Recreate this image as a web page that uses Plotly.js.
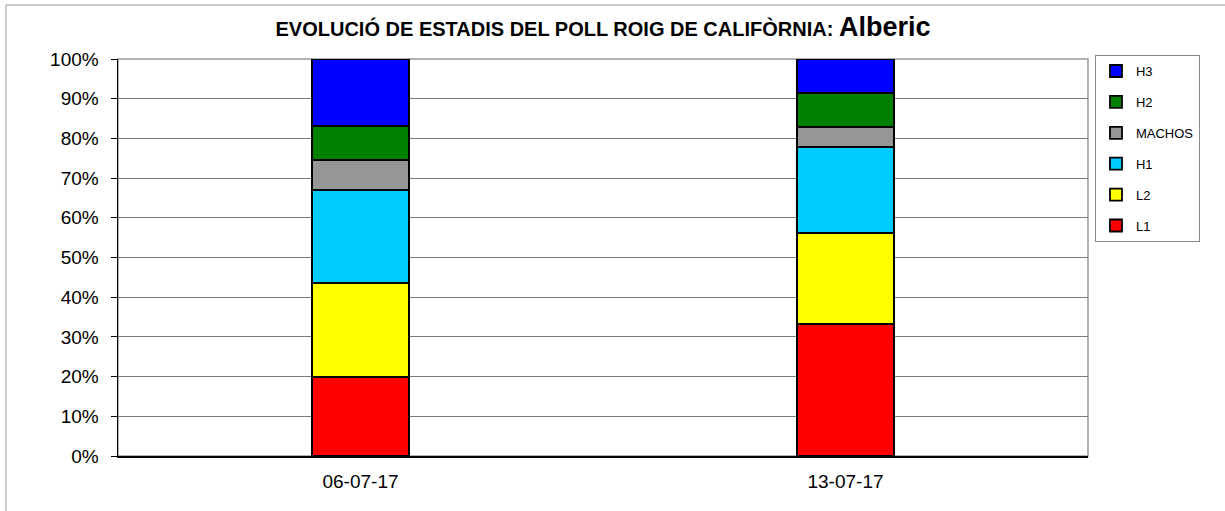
<!DOCTYPE html>
<html>
<head>
<meta charset="utf-8">
<script src="https://cdn.plot.ly/plotly-3.0.1.min.js"></script>
<style>
html,body{margin:0;padding:0;background:#fff;overflow:hidden;}
#chart{width:1225px;height:511px;}
</style>
</head>
<body>
<div id="chart"></div>
<script>
const dates = ['06-07-17', '13-07-17'];
const L1 = [19.8, 33.2];
const L2 = [23.7, 22.9];
const H1 = [23.5, 21.8];
const MACHOS = [7.6, 4.9];
const H2 = [8.5, 8.6];
const H3 = [16.9, 8.6];

const seriesNames = ['L1', 'L2', 'H1', 'MACHOS', 'H2', 'H3'];
const seriesValues = [L1, L2, H1, MACHOS, H2, H3];
const seriesColors = ['#FF0000', '#FFFF00', '#00CCFF', '#969696', '#008000', '#0000FF'];

const traces = seriesNames.map((n, i) => ({
  type: 'bar',
  name: n,
  x: dates,
  y: seriesValues[i],
  legendgroup: n,
  legendrank: seriesNames.length - i,
  marker: {color: seriesColors[i], line: {color: '#000', width: 1.8}},
  hoverinfo: 'x+y+name'
}));

const layout = {
  width: 1225, height: 511,
  margin: {l: 118, r: 137, t: 59, b: 55, pad: 0},
  paper_bgcolor: '#fff', plot_bgcolor: '#fff',
  font: {family: 'Liberation Sans, Arial, sans-serif', color: '#000', size: 19},
  barmode: 'stack',
  bargap: 0.8,
  title: {
    text: '<b>EVOLUCIÓ DE ESTADIS DEL POLL ROIG DE CALIFÒRNIA: <span style="font-size:27px">Alberic</span></b>',
    font: {size: 20, family: 'Liberation Sans, Arial, sans-serif', color: '#000'},
    xref: 'paper', x: 0.5, xanchor: 'center',
    yref: 'container', y: 0.943, yanchor: 'middle'
  },
  xaxis: {
    type: 'category',
    showline: true, linecolor: '#000', linewidth: 1.5,
    ticks: '', showgrid: false,
    ticklabelstandoff: 8,
    tickfont: {size: 19}
  },
  yaxis: {
    range: [0, 100], dtick: 10, ticksuffix: '%',
    showline: true, linecolor: '#000', linewidth: 1.5,
    ticks: 'outside', ticklen: 6, tickcolor: '#000', tickwidth: 1,
    ticklabelstandoff: 8,
    showgrid: true, gridcolor: '#7a7a7a', gridwidth: 1,
    zeroline: false,
    tickfont: {size: 19}
  },
  legend: {
    x: 1.0072, xanchor: 'left', y: 1.01, yanchor: 'top',
    bordercolor: '#888', borderwidth: 1, bgcolor: '#fff',
    traceorder: 'grouped', tracegroupgap: 11,
    font: {size: 13}, itemwidth: 30
  },
  shapes: [
    {type: 'rect', xref: 'paper', yref: 'paper', x0: 0, x1: 1, y0: 0, y1: 1,
     line: {color: '#999', width: 1.5}, layer: 'below'},
    {type: 'rect', xref: 'paper', yref: 'paper', x0: -0.1155, x1: 1.3, y0: -0.4, y1: 1.136,
     line: {color: '#999', width: 1}, layer: 'below'}
  ]
};

Plotly.newPlot('chart', traces, layout, {displayModeBar: false, staticPlot: true});
</script>
</body>
</html>
